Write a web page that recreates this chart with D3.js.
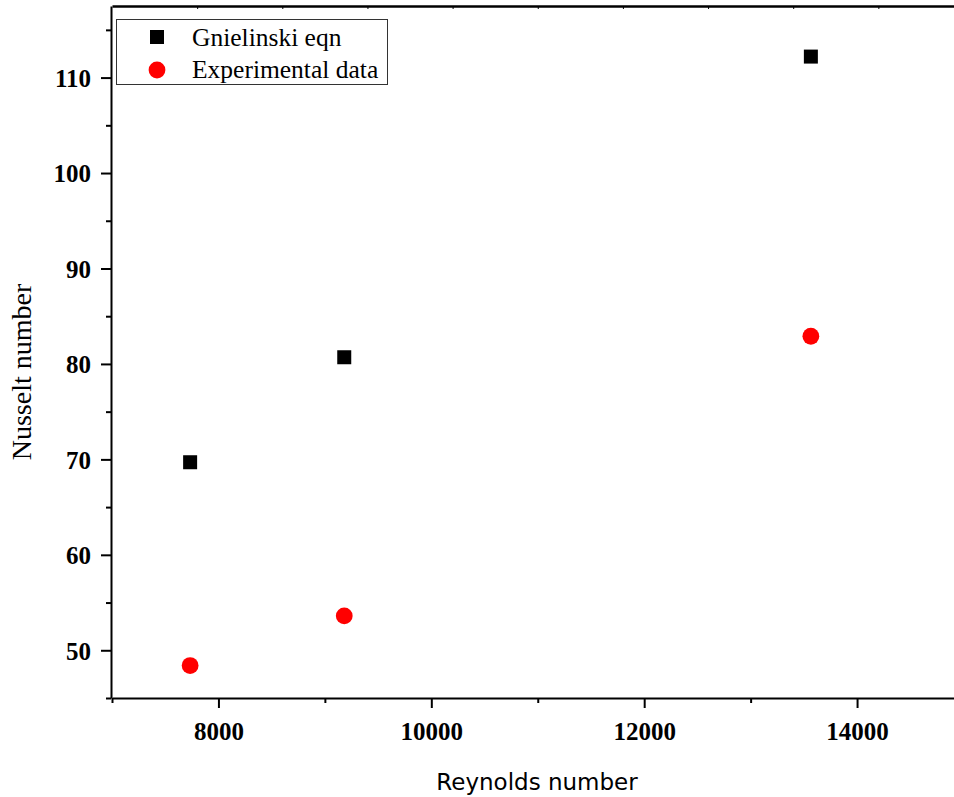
<!DOCTYPE html>
<html>
<head>
<meta charset="utf-8">
<script src="https://cdn.jsdelivr.net/npm/d3@7"></script>
<style>
  body { margin: 0; background: #fff; }
  svg { display: block; }
  .tick text { font-family: "Liberation Serif", "Times New Roman", serif; font-weight: bold; font-size: 25px; fill: #000; }
</style>
</head>
<body>
<svg id="chart" width="954" height="797"></svg>
<script>
// values
var reynolds = [7734, 9182, 13566];
var gnielinski = [69.7, 80.7, 112.2];
var experimental = [48.4, 53.6, 82.9];
var xMajorTicks = [8000, 10000, 12000, 14000];
var xMinorTicks = [7000, 9000, 11000, 13000];
var yMajorTicks = [50, 60, 70, 80, 90, 100, 110];
var yMinorTicks = [45, 55, 65, 75, 85, 95, 105, 115];
var seriesNames = ["Gnielinski eqn", "Experimental data"];

var svg = d3.select('#chart');

var x = d3.scaleLinear().domain([7000, 15000]).range([112, 963.5]);
var y = d3.scaleLinear().domain([45, 117.5]).range([698, 6]);

// minor ticks first so the main axis lines sit on top
svg.append('g')
    .attr('transform', 'translate(0,698)')
    .call(d3.axisBottom(x).tickValues(xMinorTicks).tickSize(5).tickFormat(''))
    .call(function (g) { g.select('.domain').remove(); })
    .selectAll('line').attr('stroke-width', 2);

svg.append('g')
    .attr('transform', 'translate(111,0)')
    .call(d3.axisLeft(y).tickValues(yMinorTicks).tickSize(5).tickFormat(''))
    .call(function (g) { g.select('.domain').remove(); })
    .selectAll('line').attr('stroke-width', 2);

// top border with tiny inward ticks
svg.append('g')
    .attr('transform', 'translate(0,6)')
    .call(d3.axisTop(x).tickValues(d3.range(7800, 15000, 800)).tickSize(-3).tickSizeOuter(0).tickFormat(''))
    .call(function (g) { g.select('.domain').attr('stroke-width', 2.5); })
    .selectAll('line').attr('stroke-width', 1);

var xAxis = svg.append('g')
    .attr('transform', 'translate(0,698)')
    .call(d3.axisBottom(x).tickValues(xMajorTicks).tickSize(10).tickSizeOuter(0).tickPadding(14).tickFormat(d3.format('d')));
xAxis.select('.domain').attr('stroke-width', 2);
xAxis.selectAll('line').attr('stroke-width', 2);

var yAxis = svg.append('g')
    .attr('transform', 'translate(111,0)')
    .call(d3.axisLeft(y).tickValues(yMajorTicks).tickSize(10).tickSizeOuter(0).tickPadding(10).tickFormat(d3.format('d')));
yAxis.select('.domain').attr('stroke-width', 2);
yAxis.selectAll('line').attr('stroke-width', 2);
yAxis.selectAll('text').attr('dy', '0.35em');

// axis titles
svg.append('text')
    .attr('x', 537)
    .attr('y', 790)
    .attr('text-anchor', 'middle')
    .style('font-family', '"DejaVu Sans", Verdana, sans-serif')
    .style('font-size', '23px')
    .text('Reynolds number');

svg.append('text')
    .attr('transform', 'translate(31,372) rotate(-90)')
    .attr('text-anchor', 'middle')
    .style('font-family', '"Liberation Serif", "Times New Roman", serif')
    .style('font-size', '28px')
    .text('Nusselt number');

// markers
var sq = 14;
svg.append('g').selectAll('rect')
    .data(reynolds)
    .enter()
    .append('rect')
    .attr('x', function (d) { return x(d) - sq / 2; })
    .attr('y', function (d, i) { return y(gnielinski[i]) - sq / 2; })
    .attr('width', sq)
    .attr('height', sq)
    .attr('fill', '#000');

svg.append('g').selectAll('circle')
    .data(reynolds)
    .enter()
    .append('circle')
    .attr('cx', function (d) { return x(d); })
    .attr('cy', function (d, i) { return y(experimental[i]); })
    .attr('r', 8.4)
    .attr('fill', '#ff0000');

// legend
var legend = svg.append('g');
legend.append('rect')
    .attr('x', 116.5)
    .attr('y', 19.5)
    .attr('width', 271)
    .attr('height', 65)
    .attr('fill', '#fff')
    .attr('stroke', '#333')
    .attr('stroke-width', 1);

legend.append('rect')
    .attr('x', 157 - 7)
    .attr('y', 37 - 7)
    .attr('width', sq)
    .attr('height', sq)
    .attr('fill', '#000');

legend.append('circle')
    .attr('cx', 157)
    .attr('cy', 70)
    .attr('r', 8.4)
    .attr('fill', '#ff0000');

legend.selectAll('text')
    .data(seriesNames)
    .enter()
    .append('text')
    .attr('x', 192)
    .attr('y', function (d, i) { return 46 + i * 32; })
    .style('font-family', '"Liberation Serif", "Times New Roman", serif')
    .style('font-size', '25.5px')
    .text(function (d) { return d; });
</script>
</body>
</html>
